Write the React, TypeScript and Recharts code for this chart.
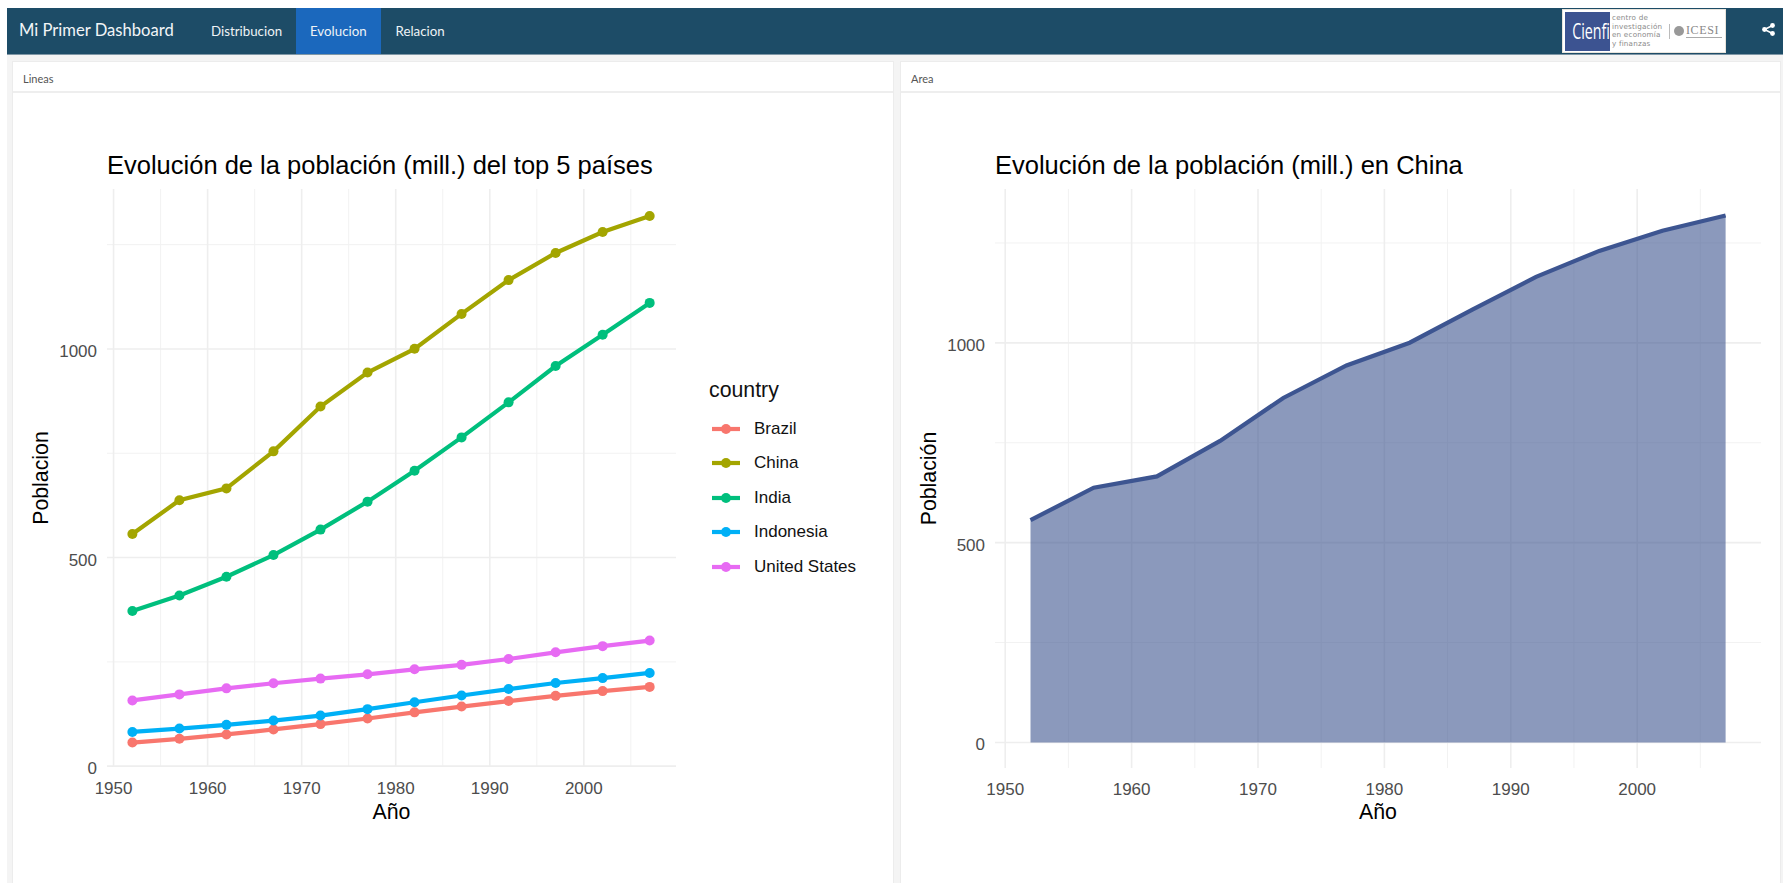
import { Area, AreaChart, CartesianGrid, Legend, Line, LineChart, XAxis, YAxis } from "recharts";

const years = [1952, 1957, 1962, 1967, 1972, 1977, 1982, 1987, 1992, 1997, 2002, 2007];
const brazil = [56.6, 65.6, 76.0, 88.0, 100.8, 114.3, 129.0, 142.9, 156.0, 168.5, 179.9, 190.0];
const china = [556.3, 637.4, 665.8, 754.6, 862.0, 943.5, 1000.3, 1084.0, 1165.0, 1230.1, 1280.4, 1318.7];
const india = [372.0, 409.0, 454.0, 506.0, 567.0, 634.0, 708.0, 788.0, 872.0, 959.0, 1034.2, 1110.4];
const indonesia = [82.1, 90.1, 99.0, 109.3, 121.3, 136.7, 153.3, 169.3, 184.8, 199.3, 211.1, 223.5];
const unitedStates = [157.6, 172.0, 186.5, 198.7, 209.9, 220.2, 232.2, 242.8, 256.9, 272.9, 287.7, 301.1];

const countries = ["Brazil", "China", "India", "Indonesia", "United States"];
const colors = ["#F8766D", "#A3A500", "#00BF7D", "#00B0F6", "#E76BF3"];
const seriesValues = [brazil, china, india, indonesia, unitedStates];

const xMajor = [1950, 1960, 1970, 1980, 1990, 2000];
const xMinor = [1955, 1965, 1975, 1985, 1995, 2005];
const yMajor = [0, 500, 1000];
const yMinor = [250, 750, 1250];
const navItems = ["Distribucion", "Evolucion", "Relacion"];
const logoLines = ["centro de", "investigación", "en economía", "y finanzas"];

const lineRows = years.map((year, i) => {
  const row: Record<string, number> = { year };
  countries.forEach((c, k) => { row[c] = seriesValues[k][i]; });
  return row;
});
const areaRows = years.map((year, i) => ({ year, China: china[i] }));

const FONT = "'Liberation Sans', Arial, sans-serif";
const tickStyle = { fill: "#4d4d4d", fontSize: 17, fontFamily: FONT };
const axisTitle = { fill: "#000", fontSize: 21.3, fontFamily: FONT };

const abs = (left: number, top: number, width: number, height: number) =>
  ({ position: "absolute", left, top, width, height } as React.CSSProperties);

const grids = () => [
  <CartesianGrid key="minor" stroke="#f2f2f2" strokeWidth={1} horizontalValues={yMinor} verticalValues={xMinor} />,
  <CartesianGrid key="major" stroke="#eeeeee" strokeWidth={1.6} horizontalValues={yMajor} verticalValues={xMajor} />,
];

const CountryLegend = () => (
  <div style={{ width: 170, fontFamily: FONT }}>
    <div style={{ fontSize: 21.3, color: "#111", height: 33.5, lineHeight: "24px" }}>country</div>
    {countries.map((c, i) => (
      <div key={c} style={{ height: 34.5, display: "flex", alignItems: "center" }}>
        <svg width={28} height={14} style={{ marginRight: 14, marginLeft: 3 }}>
          <line x1={0} x2={28} y1={7} y2={7} stroke={colors[i]} strokeWidth={4.2} />
          <circle cx={14} cy={7} r={5} fill={colors[i]} />
        </svg>
        <span style={{ fontSize: 17, color: "#111" }}>{c}</span>
      </div>
    ))}
  </div>
);

const Panel = ({ left, width, name, title, titleLeft, children }: any) => (
  <div style={{ ...abs(left, 62, width, 821), background: "#fff", outline: "1px solid #ececec" }}>
    <div style={{ ...abs(0, 0, width, 31), borderBottom: "2px solid #eeeeee", boxSizing: "border-box", fontFamily: "Lato", fontSize: 11, color: "#555", paddingLeft: 10, lineHeight: "33px" }}>{name}</div>
    <div style={{ ...abs(titleLeft, 87, 760, 32), fontFamily: FONT, fontSize: 25.5, lineHeight: "32px", color: "#000", whiteSpace: "nowrap" }}>{title}</div>
    <div style={abs(0, 31, width, 790)}>{children}</div>
  </div>
);

export default function App() {
  return (
    <div style={{ ...abs(0, 0, 1783, 883), background: "#fff", overflow: "hidden" }}>
      <div style={{ ...abs(7, 54, 1776, 829), background: "#f4f4f4" }} />
      <div style={{ ...abs(7, 8, 1776, 47), background: "#1d4c67", borderBottom: "1px solid #7f97a6", boxSizing: "border-box" }} />
      <div style={{ ...abs(19, 8, 220, 46), color: "#f2f5f7", fontFamily: "Lato", fontSize: 16.6, lineHeight: "45px" }}>Mi Primer Dashboard</div>
      <div style={{ ...abs(296, 8, 85, 46), background: "#1b68bd" }} />
      {navItems.map((n, i) => (
        <div key={n} style={{ ...abs([211, 310, 395.5][i], 8, 90, 46), color: "#eef3f6", fontFamily: "Lato", fontSize: 13.3, lineHeight: "46px" }}>{n}</div>
      ))}

      <div style={{ ...abs(1562, 9, 164, 44), background: "#fff", border: "1px solid #e8e4dc", boxSizing: "border-box" }} />
      <div style={{ ...abs(1565, 12, 45, 39), background: "#3c5391" }} />
      <div style={{ ...abs(1565, 12, 45, 39), color: "#fff", fontFamily: "'Open Sans'", fontSize: 21, lineHeight: "39px", textAlign: "center", transform: "scaleX(0.68)" }}>Cienfi</div>
      {logoLines.map((l, i) => (
        <div key={l} style={{ ...abs(1612, 13 + i * 8.7, 60, 9), fontFamily: "'DejaVu Sans'", fontSize: 7.2, lineHeight: "9px", letterSpacing: 0.2, color: "#8a8a8a", whiteSpace: "nowrap" }}>{l}</div>
      ))}
      <div style={{ ...abs(1669, 24, 1, 15), background: "#bbb" }} />
      <div style={{ ...abs(1674, 26, 10, 10), borderRadius: 5, background: "#999" }} />
      <div style={{ ...abs(1686, 23, 36, 14), fontFamily: "'Liberation Serif'", fontSize: 12, lineHeight: "15px", color: "#888", letterSpacing: 0.6, borderBottom: "1px solid #aaa" }}>ICESI</div>
      <svg style={abs(1762, 23, 13, 13)} viewBox="0 0 13 13">
        <path d="M10.5 2.5 L2.5 6.5 L10.5 10.5" stroke="#fff" strokeWidth={1.5} fill="none" />
        <circle cx={10.5} cy={2.5} r={2.4} fill="#fff" />
        <circle cx={2.5} cy={6.5} r={2.4} fill="#fff" />
        <circle cx={10.5} cy={10.5} r={2.4} fill="#fff" />
      </svg>

      <Panel left={13} width={880} name="Lineas" title="Evolución de la población (mill.) del top 5 países" titleLeft={94}>
        <LineChart width={880} height={790} data={lineRows} margin={{ top: 96, right: 47, bottom: 76, left: 0 }}>
          {grids()}
          <XAxis dataKey="year" type="number" domain={[1949.3, 2009.8]} ticks={xMajor} allowDataOverflow axisLine={false} tickLine={false} tick={tickStyle} tickMargin={9} height={40} label={{ value: "Año", position: "insideBottom", offset: -12, style: axisTitle }} />
          <YAxis type="number" domain={[-2, 1383.4]} ticks={yMajor} allowDataOverflow axisLine={false} tickLine={false} tick={{ ...tickStyle, dy: 2 }} tickSize={0} tickMargin={10} width={94} label={{ value: "Poblacion", angle: -90, position: "insideLeft", offset: 27.6, style: { ...axisTitle, textAnchor: "middle" } }} />
          {countries.map((c, i) => (
            <Line key={c} dataKey={c} stroke={colors[i]} strokeWidth={4.2} dot={{ r: 5, fill: colors[i], stroke: colors[i], strokeWidth: 0 }} activeDot={false} isAnimationActive={false} />
          ))}
          <Legend layout="vertical" align="right" verticalAlign="top" width={170} content={<CountryLegend />} wrapperStyle={{ left: 696, top: 285, width: 170 }} />
        </LineChart>
      </Panel>

      <Panel left={901} width={879} name="Area" title="Evolución de la población (mill.) en China" titleLeft={94}>
        <AreaChart width={879} height={790} data={areaRows} margin={{ top: 96, right: 19, bottom: 75, left: 0 }}>
          {grids()}
          <XAxis dataKey="year" type="number" domain={[1949.19, 2009.8]} ticks={xMajor} allowDataOverflow axisLine={false} tickLine={false} tick={tickStyle} tickMargin={9} height={40} label={{ value: "Año", position: "insideBottom", offset: -11, style: axisTitle }} />
          <YAxis type="number" domain={[-64, 1385]} ticks={yMajor} allowDataOverflow axisLine={false} tickLine={false} tick={{ ...tickStyle, dy: 2 }} tickSize={0} tickMargin={10} width={94} label={{ value: "Población", angle: -90, position: "insideLeft", offset: 27.6, style: { ...axisTitle, textAnchor: "middle" } }} />
          <Area dataKey="China" type="linear" baseValue={0} stroke="#3d5591" strokeWidth={4.2} fill="#3e5590" fillOpacity={0.6} dot={false} activeDot={false} isAnimationActive={false} />
        </AreaChart>
      </Panel>
    </div>
  );
}
